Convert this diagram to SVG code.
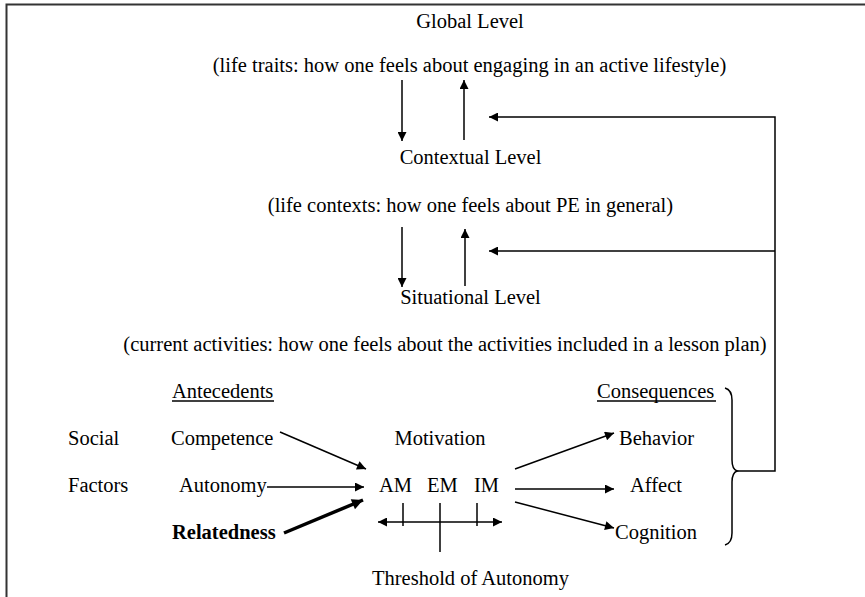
<svg xmlns="http://www.w3.org/2000/svg" width="865" height="597" viewBox="0 0 865 597">
<style>
text{font-family:"Liberation Serif","Times New Roman",serif;font-size:20.5px;fill:#000}
.c{text-anchor:middle}
.b{font-weight:bold}
.ln{stroke:#000;stroke-width:1.5;fill:none}
.thick{stroke:#000;stroke-width:3.5;fill:none}
</style>
<defs>
<marker id="ah" viewBox="0 0 10 10" refX="10" refY="5" markerWidth="11" markerHeight="9" markerUnits="userSpaceOnUse" orient="auto"><path d="M0,0 L10,5 L0,10 z" fill="#000"/></marker>
<marker id="ahb" viewBox="0 0 10 10" refX="10" refY="5" markerWidth="14" markerHeight="11" markerUnits="userSpaceOnUse" orient="auto"><path d="M0,0 L10,5 L0,10 z" fill="#000"/></marker>
</defs>
<rect width="865" height="597" fill="#fff"/>
<path d="M6.5,597 V4.5 H865" stroke="#333" stroke-width="2" fill="none"/>

<g id="global"><text class="c" x="470" y="28">Global Level</text>
<text class="c" x="469.5" y="72">(life traits: how one feels about engaging in an active lifestyle)</text></g>
<g id="contextual"><text class="c" x="470.5" y="164">Contextual Level</text>
<text class="c" x="470.5" y="212">(life contexts: how one feels about PE in general)</text></g>
<g id="situational"><text class="c" x="470.5" y="304">Situational Level</text>
<text class="c" x="445" y="351">(current activities: how one feels about the activities included in a lesson plan)</text></g>
<g id="antecedents"><text x="172" y="398">Antecedents</text><line class="ln" x1="172" y1="401" x2="274" y2="401" stroke-width="1"/></g>
<g id="consequences"><text x="597" y="398">Consequences</text><line class="ln" x1="597" y1="401" x2="716" y2="401" stroke-width="1"/></g>
<g id="social"><text x="68" y="445">Social</text><text x="68" y="492">Factors</text></g>
<g id="competence"><text x="171" y="445">Competence</text></g>
<g id="autonomy"><text x="179" y="492">Autonomy</text></g>
<g id="relatedness"><text class="b" x="172" y="539">Relatedness</text></g>
<g id="motivation"><text class="c" x="440" y="445">Motivation</text>
<text x="379" y="492">AM</text><text x="427" y="492">EM</text><text x="474" y="492">IM</text></g>
<g id="threshold"><text class="c" x="470.5" y="585">Threshold of Autonomy</text></g>
<g id="behavior"><text x="619" y="445">Behavior</text></g>
<g id="affect"><text x="630" y="492">Affect</text></g>
<g id="cognition"><text x="615" y="539">Cognition</text></g>

<g id="connectors">
<line class="ln" x1="402" y1="80" x2="402" y2="141" marker-end="url(#ah)"/>
<line class="ln" x1="464" y1="140" x2="464" y2="80" marker-end="url(#ah)"/>
<line class="ln" x1="402" y1="227" x2="402" y2="287" marker-end="url(#ah)"/>
<line class="ln" x1="465" y1="286" x2="465" y2="229" marker-end="url(#ah)"/>
<path class="ln" d="M737,471 H775 V117 H489" marker-end="url(#ah)"/>
<line class="ln" x1="775" y1="251" x2="489" y2="251" marker-end="url(#ah)"/>
<line class="ln" x1="280" y1="432" x2="366" y2="469" marker-end="url(#ah)"/>
<line class="ln" x1="267" y1="487" x2="364" y2="487" marker-end="url(#ah)"/>
<line class="thick" x1="284" y1="533" x2="363" y2="500" marker-end="url(#ahb)"/>
<line class="ln" x1="440" y1="522" x2="378" y2="522" marker-end="url(#ah)"/>
<line class="ln" x1="440" y1="522" x2="502" y2="522" marker-end="url(#ah)"/>
<line class="ln" x1="403" y1="503" x2="403" y2="526"/>
<line class="ln" x1="440" y1="503" x2="440" y2="552"/>
<line class="ln" x1="477" y1="503" x2="477" y2="526"/>
<line class="ln" x1="515" y1="469" x2="614" y2="433" marker-end="url(#ah)"/>
<line class="ln" x1="515" y1="489" x2="614" y2="489" marker-end="url(#ah)"/>
<line class="ln" x1="515" y1="502" x2="614" y2="528" marker-end="url(#ah)"/>
<path class="ln" d="M725,388 Q732,390 732,400 V460 Q732,469 737,471 Q732,473 732,482 V533 Q732,543 725,545"/>
</g>
</svg>
